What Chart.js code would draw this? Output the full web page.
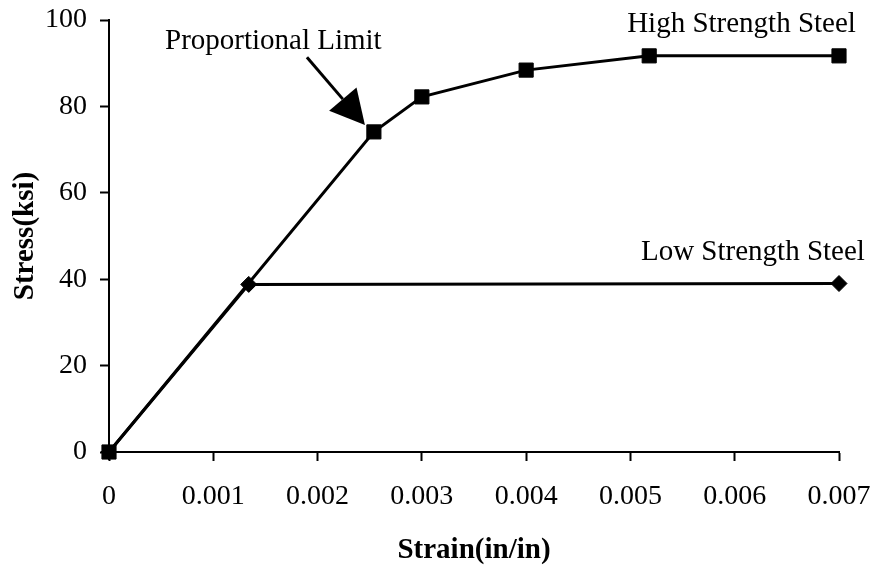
<!DOCTYPE html>
<html>
<head>
<meta charset="utf-8">
<script src="https://cdn.jsdelivr.net/npm/chart.js@4"></script>
<style>
  html, body { margin: 0; padding: 0; background: #ffffff; }
  #wrap { width: 875px; height: 568px; position: relative; }
</style>
</head>
<body>
<div id="wrap"><canvas id="c" width="875" height="568"></canvas></div>
<script>
// ---- data ----
const highStrain = [0, 0.00254, 0.003, 0.004, 0.00518, 0.007];
const highStress = [0, 74.1, 82.2, 88.4, 91.7, 91.7];
const lowStrain  = [0, 0.00134, 0.007];
const lowStress  = [0, 38.8, 39.0];
const xTicks = [0, 0.001, 0.002, 0.003, 0.004, 0.005, 0.006, 0.007];
const yTicks = [0, 20, 40, 60, 80, 100];
const seriesNames = ['High Strength Steel', 'Low Strength Steel'];
const annotationText = 'Proportional Limit';
const xTitle = 'Strain(in/in)';
const yTitle = 'Stress(ksi)';

const FONT = "'Liberation Serif', 'Times New Roman', serif";

const toPoints = (xs, ys) => xs.map((x, i) => ({ x: x, y: ys[i] }));

const annotations = {
  id: 'annotations',
  afterDatasetsDraw(chart) {
    const ctx = chart.ctx;
    const xs = chart.scales.x, ys = chart.scales.y;
    const px = v => xs.getPixelForValue(v);
    const py = v => ys.getPixelForValue(v);
    ctx.save();
    ctx.fillStyle = '#000';
    ctx.strokeStyle = '#000';
    ctx.font = '29px ' + FONT;
    ctx.textBaseline = 'alphabetic';
    // Proportional Limit label
    ctx.textAlign = 'left';
    ctx.fillText(annotationText, px(0.000537), py(93.3));
    // series labels
    ctx.textAlign = 'right';
    ctx.fillText(seriesNames[0], px(0.007162), py(97.2));
    ctx.fillText(seriesNames[1], px(0.007248), py(44.4));
    // arrow
    const x0 = px(0.001898), y0 = py(91.4);
    const x1 = px(0.002454), y1 = py(75.7);
    const ang = Math.atan2(y1 - y0, x1 - x0);
    const headLen = 34, headHalf = 18;
    const bx = x1 - headLen * Math.cos(ang), by = y1 - headLen * Math.sin(ang);
    ctx.lineWidth = 3;
    ctx.beginPath();
    ctx.moveTo(x0, y0);
    ctx.lineTo(bx, by);
    ctx.stroke();
    ctx.beginPath();
    ctx.moveTo(x1, y1);
    ctx.lineTo(bx + headHalf * Math.sin(ang), by - headHalf * Math.cos(ang));
    ctx.lineTo(bx - headHalf * Math.sin(ang), by + headHalf * Math.cos(ang));
    ctx.closePath();
    ctx.fill();
    ctx.restore();
  }
};

new Chart(document.getElementById('c'), {
  type: 'scatter',
  data: {
    datasets: [
      {
        label: seriesNames[0],
        data: toPoints(highStrain, highStress),
        showLine: true,
        borderColor: '#000',
        backgroundColor: '#000',
        borderWidth: 3,
        pointStyle: 'rect',
        pointRadius: 10,
        pointBorderWidth: 1,
        pointBackgroundColor: '#000',
        pointBorderColor: '#000',
        clip: false
      },
      {
        label: seriesNames[1],
        data: toPoints(lowStrain, lowStress),
        showLine: true,
        borderColor: '#000',
        backgroundColor: '#000',
        borderWidth: 3,
        pointStyle: 'rectRot',
        pointRadius: 8,
        pointBorderWidth: 1,
        pointBackgroundColor: '#000',
        pointBorderColor: '#000',
        clip: false
      }
    ]
  },
  options: {
    responsive: false,
    animation: false,
    devicePixelRatio: 1,
    layout: { padding: { top: 20, right: 36, bottom: 0, left: 0 } },
    plugins: {
      legend: { display: false },
      tooltip: { enabled: false }
    },
    scales: {
      x: {
        type: 'linear',
        min: 0,
        max: 0.007,
        afterBuildTicks: s => { s.ticks = xTicks.map(v => ({ value: v })); },
        afterFit: s => { s.height = 116; s.paddingLeft = 0; s.paddingRight = 0; },
        ticks: {
          color: '#000',
          font: { family: FONT, size: 28 },
          padding: 19,
          maxRotation: 0,
          autoSkip: false,
          callback: v => String(v)
        },
        grid: {
          display: true,
          drawOnChartArea: false,
          drawTicks: true,
          tickLength: 9,
          tickWidth: 2,
          color: '#000'
        },
        border: { display: true, color: '#000', width: 2 },
        title: {
          display: true,
          text: xTitle,
          color: '#000',
          font: { family: FONT, size: 29, weight: 'bold' },
          padding: { top: 0, bottom: 0 }
        }
      },
      y: {
        type: 'linear',
        min: 0,
        max: 100,
        afterBuildTicks: s => { s.ticks = yTicks.map(v => ({ value: v })); },
        afterFit: s => { s.width = 109; s.paddingTop = 0; s.paddingBottom = 0; },
        ticks: {
          color: '#000',
          font: { family: FONT, size: 28 },
          padding: 13,
          callback: v => String(v)
        },
        grid: {
          display: true,
          drawOnChartArea: false,
          drawTicks: true,
          tickLength: 9,
          tickWidth: 2,
          color: '#000'
        },
        border: { display: true, color: '#000', width: 2 },
        title: {
          display: true,
          text: yTitle,
          color: '#000',
          font: { family: FONT, size: 29, weight: 'bold' },
          padding: { top: 8, bottom: 0 }
        }
      }
    }
  },
  plugins: [annotations]
});
</script>
</body>
</html>
